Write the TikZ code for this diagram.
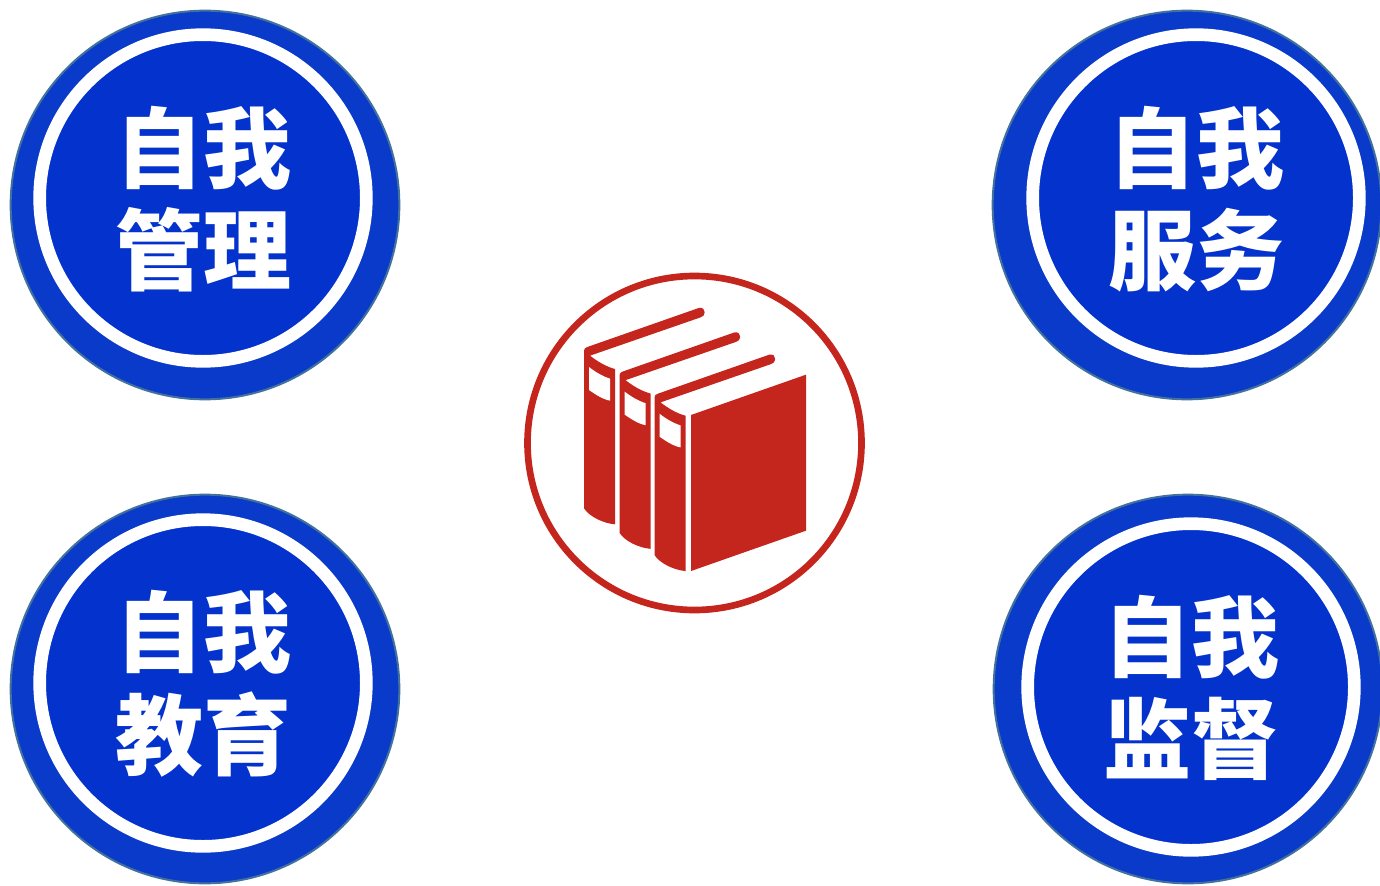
\documentclass[tikz,border=0pt]{standalone}
\usepackage{fontspec}
\newfontfamily\cjkbold{Noto Sans CJK SC Black}
\definecolor{outerblue}{HTML}{0A3ACA}
\definecolor{innerblue}{HTML}{0333CC}
\definecolor{edgeblue}{HTML}{41719C}
\definecolor{bookred}{HTML}{C4261D}
\tikzset{
  x=0.75pt,y=-0.75pt,
  outerdisc/.style={circle,draw=edgeblue,line width=1.5pt,fill=outerblue,minimum size=291.5pt,inner sep=0pt},
  innerdisc/.style={circle,draw=white,line width=9.5pt,fill=innerblue,minimum size=245pt,inner sep=0pt},
  label/.style={text=white,align=center,font=\cjkbold\fontsize{66}{77}\selectfont,inner sep=0pt},
  hub/.style={circle,draw=bookred,line width=5pt,fill=white,minimum size=250.5pt,inner sep=0pt},
}
\newcommand{\bookshape}[1]{%
  \begin{scope}[shift={#1},x=0.25pt,y=-0.25pt]
    \fill[bookred] (222,745) -- (222,272) .. controls (222,266) and (226,263) .. (232,261)
      -- (566,144) .. controls (578,141) and (585,149) .. (584,157)
      .. controls (584,165) and (579,170) .. (572,172)
      -- (240,287) .. controls (262,304) and (288,320) .. (315,327)
      -- (315,793) .. controls (280,790) and (238,770) .. (222,745) -- cycle;
    \fill[white] (237,321) .. controls (256,336) and (278,349) .. (300,356)
      -- (300,422) .. controls (278,418) and (256,403) .. (237,390) -- cycle;
  \end{scope}}
\begin{document}
\begin{tikzpicture}
\useasboundingbox (0,0) rectangle (1380,885);
\node[outerdisc] (tlo) at (205,205) {};
\node[innerdisc] (tli) at (203,198) {};
\node[label] (tlt) at (203,199) {自我\\管理};
\node[outerdisc] (tro) at (1187,205) {};
\node[innerdisc] (tri) at (1196,198) {};
\node[label] (trt) at (1196,199) {自我\\服务};
\node[outerdisc] (blo) at (205,689) {};
\node[innerdisc] (bli) at (203,683) {};
\node[label] (blt) at (203,684) {自我\\教育};
\node[outerdisc] (bro) at (1188,689) {};
\node[innerdisc] (bri) at (1191,687) {};
\node[label] (brt) at (1191,688) {自我\\监督};
\node[hub] (hub) at (694.5,443) {};
\bookshape{(510,260)}
\bookshape{(545.5,284.5)}
\bookshape{(580.5,306.7)}
\begin{scope}[shift={(510,260)},x=0.25pt,y=-0.25pt]
  \fill[bookred] (543,465) -- (888,344) -- (888,812) -- (543,933) -- cycle;
\end{scope}
\end{tikzpicture}
\end{document}
